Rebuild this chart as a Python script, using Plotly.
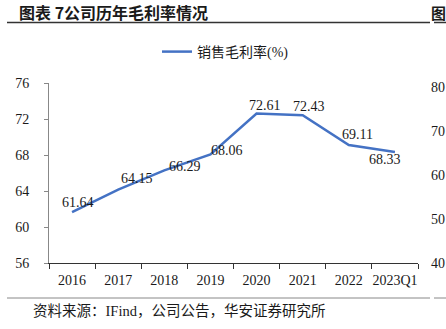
import plotly.graph_objects as go

categories = ["2016", "2017", "2018", "2019", "2020", "2021", "2022", "2023Q1"]
gross_margin = [61.64, 64.15, 66.29, 68.06, 72.61, 72.43, 69.11, 68.33]
y_ticks = [56, 60, 64, 68, 72, 76]
right_ticks = ["80", "70", "60", "50", "40"]
series_name = "销售毛利率(%)"
title_text = "图表 7公司历年毛利率情况"
right_title = "图"
source_text = "资料来源：IFind，公司公告，华安证券研究所"

# label offsets (pixels) relative to each point
label_dx = [6, 19, 21, 17, 8, 6, 9, -10]
label_dy = [10, 11, 4, 4, 8, 9, 11, -7]

W, H = 446, 329
L, R, T, B = 49, 28, 83, 66
pw, ph = W - L - R, H - T - B

def px(x):
    return (x - L) / pw

def py(y):
    return (H - B - y) / ph

FONT = "Liberation Serif, Noto Sans CJK SC"
TXT = "#1a1a1a"

fig = go.Figure()
fig.add_trace(go.Scatter(
    x=categories, y=gross_margin, mode="lines", name=series_name,
    line=dict(color="#4472C4", width=2.5), showlegend=True,
))

for i, (v, dx, dy) in enumerate(zip(gross_margin, label_dx, label_dy)):
    fig.add_annotation(x=i, y=v, text=f"{v:.2f}", showarrow=False,
                       xshift=dx, yshift=dy,
                       font=dict(family=FONT, size=14, color=TXT))

# title
fig.add_annotation(xref="paper", yref="paper", x=px(17), y=py(12), text=f"<b>{title_text}</b>",
                   showarrow=False, xanchor="left", yanchor="middle",
                   font=dict(family="Noto Sans CJK SC", size=16, color=TXT))
fig.add_annotation(xref="paper", yref="paper", x=px(429), y=py(12), text=f"<b>{right_title}</b>",
                   showarrow=False, xanchor="left", yanchor="middle",
                   font=dict(family="Noto Sans CJK SC", size=15, color=TXT))
# source
fig.add_annotation(xref="paper", yref="paper", x=px(31), y=py(311), text=source_text,
                   showarrow=False, xanchor="left", yanchor="middle",
                   font=dict(family=FONT, size=14.5, color=TXT))
# right partial axis labels
for i, t in enumerate(right_ticks):
    fig.add_annotation(xref="paper", yref="paper", x=px(429), y=py(87 + i * 44), text=t,
                       showarrow=False, xanchor="left", yanchor="middle",
                       font=dict(family=FONT, size=14, color=TXT))

# separator lines
fig.add_shape(type="line", xref="paper", yref="paper", x0=px(7), x1=px(430), y0=py(22.5), y1=py(22.5),
              line=dict(color="#333333", width=1.5))
fig.add_shape(type="line", xref="paper", yref="paper", x0=px(434), x1=px(450), y0=py(22.5), y1=py(22.5),
              line=dict(color="#333333", width=1.5))
fig.add_shape(type="line", xref="paper", yref="paper", x0=px(7), x1=px(430), y0=py(298), y1=py(298),
              line=dict(color="#888888", width=1))
fig.add_shape(type="line", xref="paper", yref="paper", x0=px(434), x1=px(450), y0=py(298), y1=py(298),
              line=dict(color="#888888", width=1))

fig.update_layout(
    width=W, height=H,
    margin=dict(l=L, r=R, t=T, b=B, pad=0),
    paper_bgcolor="white", plot_bgcolor="white",
    showlegend=True,
    legend=dict(x=px(157), y=py(52), xanchor="left", yanchor="middle",
                orientation="h", font=dict(family=FONT, size=14, color=TXT),
                bgcolor="rgba(0,0,0,0)", borderwidth=0),
    xaxis=dict(
        type="category", range=[-0.5, len(categories) - 0.5],
        showline=True, linecolor="#333333", linewidth=1.2,
        ticks="outside", ticklen=5, tickcolor="#333333", tickwidth=1.2,
        tickson="boundaries", showgrid=False, zeroline=False, tickangle=0,
        tickfont=dict(family=FONT, size=14, color=TXT), ticklabelstandoff=4,
    ),
    yaxis=dict(
        range=[56, 76], tickvals=y_ticks,
        showline=True, linecolor="#888888", linewidth=1,
        ticks="outside", ticklen=4, tickcolor="#888888",
        showgrid=False, zeroline=False,
        tickfont=dict(family=FONT, size=14, color=TXT), ticklabelstandoff=12,
    ),
)

fig.write_html("out.html")
